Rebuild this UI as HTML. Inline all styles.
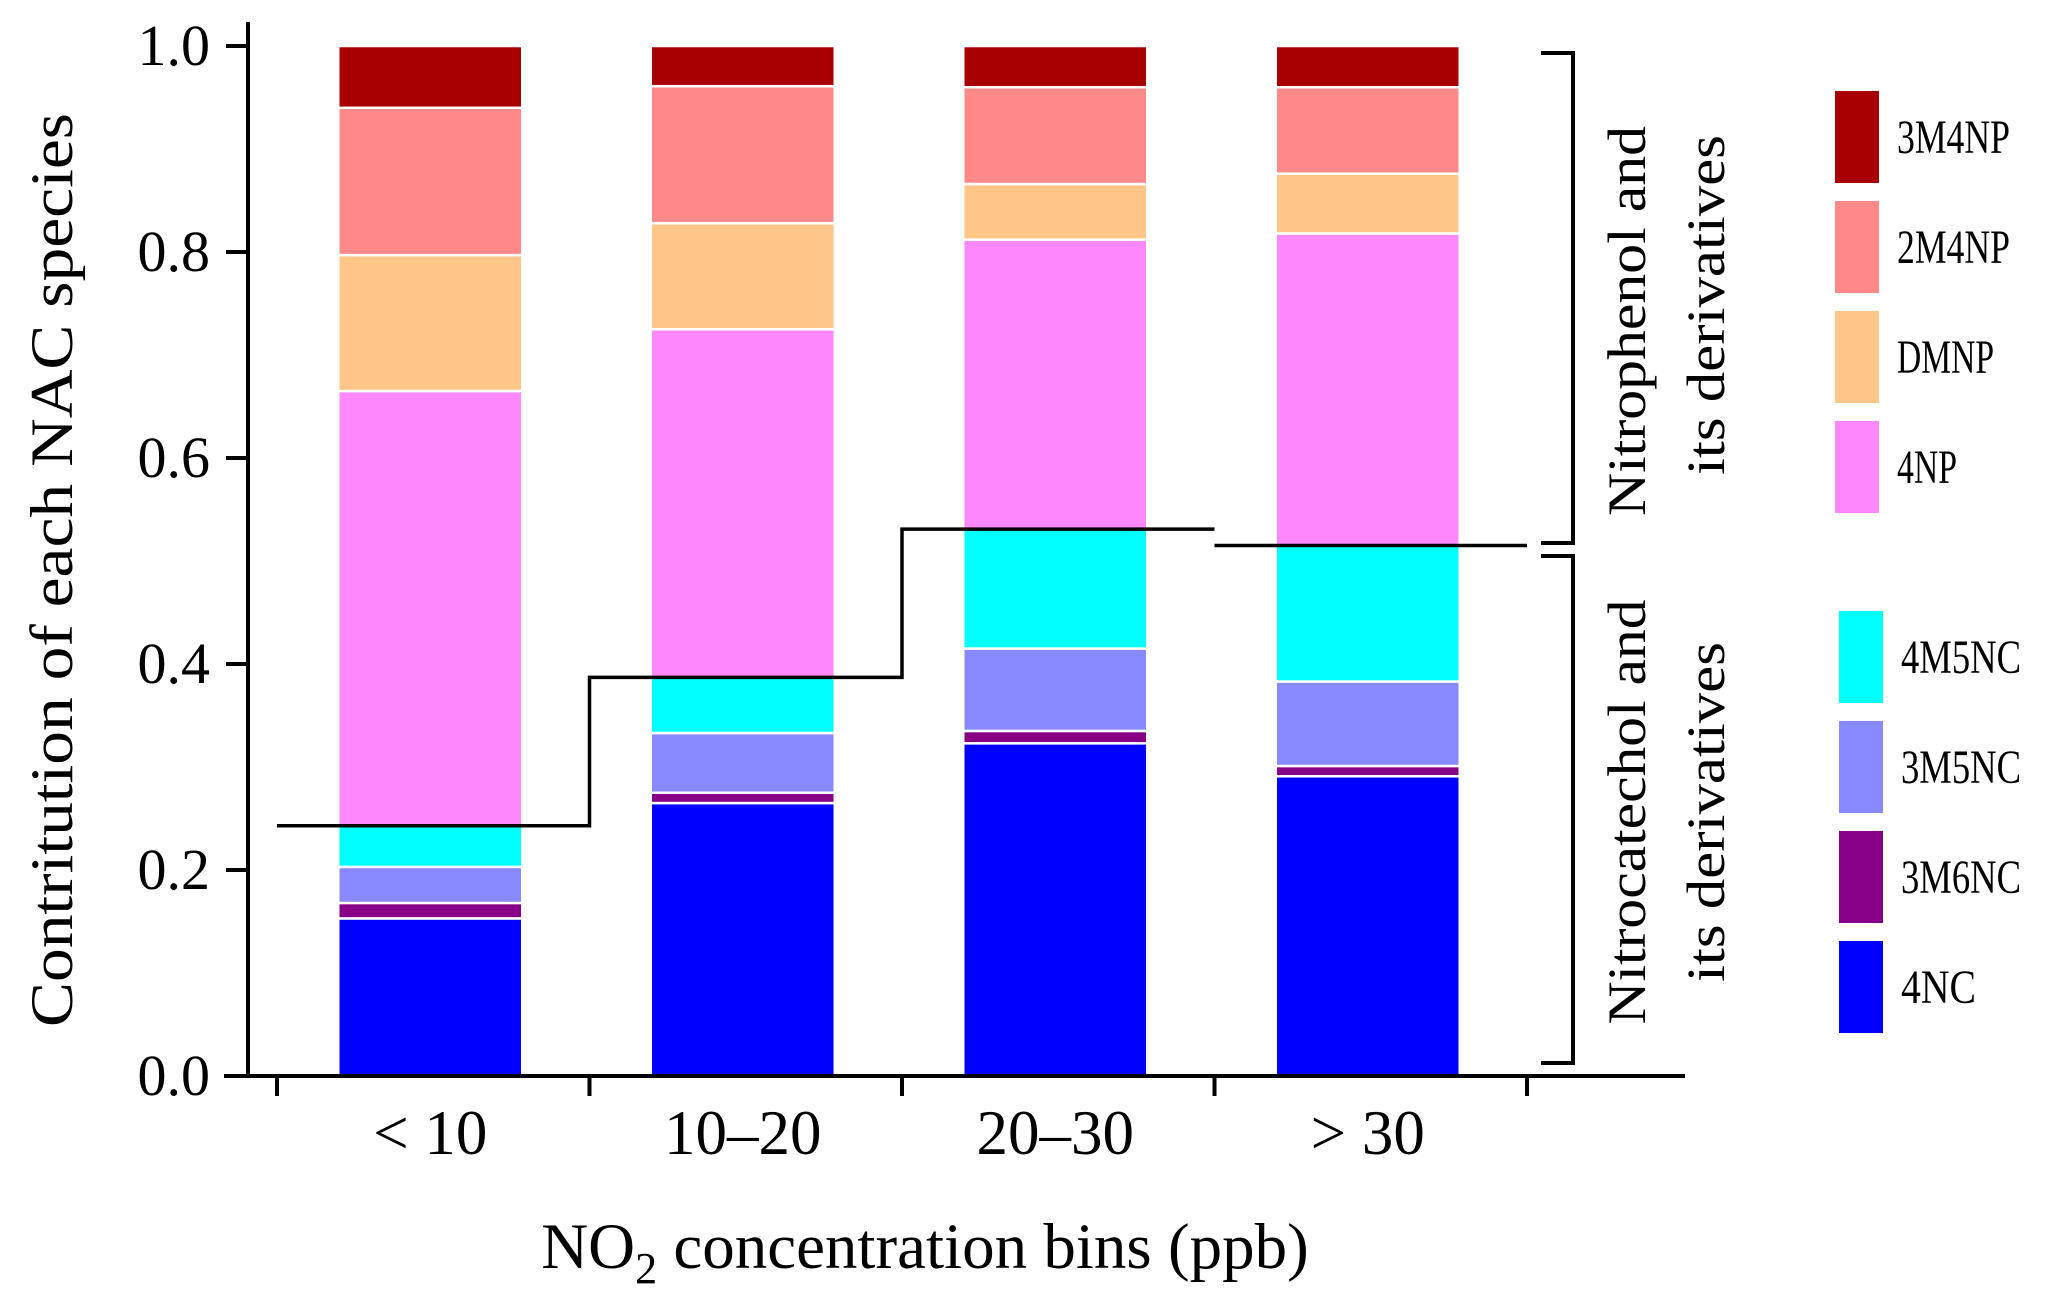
<!DOCTYPE html>
<html><head><meta charset="utf-8"><style>
html,body{margin:0;padding:0;background:#fff;}
svg{display:block;font-family:"Liberation Serif",serif;}
</style></head><body>
<svg id="chart" width="2067" height="1313" viewBox="0 0 2067 1313" xmlns="http://www.w3.org/2000/svg">
<g id="bars"></g>
<g id="axes"></g>
<g id="legend"></g>
</svg>
<script>
const categories = ["< 10", "10\u201320", "20\u201330", "> 30"];
const seriesNames = ["4NC","3M6NC","3M5NC","4M5NC","4NP","DMNP","2M4NP","3M4NP"];
const seriesColors = ["#0000FF","#880088","#8888FF","#00FFFF","#FF88FF","#FFC688","#FF8888","#A80000"];
const s4NC   = [0.153, 0.265, 0.323, 0.291];
const s3M6NC = [0.015, 0.010, 0.012, 0.010];
const s3M5NC = [0.035, 0.058, 0.080, 0.082];
const s4M5NC = [0.040, 0.054, 0.116, 0.132];
const s4NP   = [0.422, 0.338, 0.281, 0.303];
const sDMNP  = [0.132, 0.103, 0.054, 0.058];
const s2M4NP = [0.143, 0.133, 0.094, 0.084];
const s3M4NP = [0.060, 0.039, 0.040, 0.040];
const yTicks = [0.0, 0.2, 0.4, 0.6, 0.8, 1.0];
const yTickLabels = ["0.0","0.2","0.4","0.6","0.8","1.0"];

const series = [s4NC, s3M6NC, s3M5NC, s4M5NC, s4NP, sDMNP, s2M4NP, s3M4NP];
const NS = "http://www.w3.org/2000/svg";
const X0 = 248, X1 = 1685, Y0 = 1076, Y1 = 46;
const firstTick = 277, step = 312.5, barW = 184;
function yScale(v){ return Y0 - v*(Y0-Y1); }
function xCenter(i){ return firstTick - 3 + step*(i+0.5); }
function mk(tag, attrs, parent){ const e=document.createElementNS(NS,tag); for(const k in attrs) e.setAttribute(k,attrs[k]); parent.appendChild(e); return e; }

const bars = document.getElementById('bars');
const axes = document.getElementById('axes');
const legend = document.getElementById('legend');

categories.forEach((c,i)=>{
  let cum = 0;
  series.forEach((s,j)=>{
    const y0 = yScale(cum), y1 = yScale(cum + s[i]);
    const r = mk('rect',{x:xCenter(i)-barW/2, y:y1, width:barW, height:y0-y1, fill:seriesColors[j], stroke:'#fff','stroke-width':2.5}, bars);
    
    
    cum += s[i];
  });
});

const catechol = categories.map((c,i)=> s4NC[i]+s3M6NC[i]+s3M5NC[i]+s4M5NC[i]);
let d = '';
catechol.forEach((v,i)=>{
  const xa = firstTick + step*i, xb = firstTick + step*(i+1), y = yScale(v);
  if(i===0) d += `M${xa},${y}`;
  else if(i===3) d += ` M${xa},${y}`;
  else d += ` L${xa},${y}`;
  d += ` L${xb},${y}`;
});
const sl = mk('path',{d:d, fill:'none', stroke:'#000','stroke-width':3.5}, bars);



const ya = mk('line',{x1:X0,y1:Y0+2,x2:X0,y2:Y1-24,stroke:'#000','stroke-width':4}, axes);


const xa = mk('line',{x1:X0-24,y1:Y0,x2:X1,y2:Y0,stroke:'#000','stroke-width':4}, axes);


yTicks.forEach((v,k)=>{
  const y = yScale(v);
  const t = mk('line',{x1:X0-22,y1:y,x2:X0,y2:y,stroke:'#000','stroke-width':4}, axes);
  
  
  const l = mk('text',{x:X0-38,y:y+19,'font-size':58,'text-anchor':'end',fill:'#000'}, axes);
  l.textContent = yTickLabels[k];
  
  
});
for(let i=0;i<=categories.length;i++){
  const x = firstTick + step*i;
  const t = mk('line',{x1:x,y1:Y0,x2:x,y2:Y0+20,stroke:'#000','stroke-width':4}, axes);
  
  
}
categories.forEach((c,i)=>{
  const l = mk('text',{x:xCenter(i),y:1154,'font-size':63,'text-anchor':'middle',fill:'#000'}, axes);
  l.textContent = c;
  
  
});

function addText(parent, attrs, txt, name){
  const e = document.createElementNS(NS,'text');
  for(const k in attrs) e.setAttribute(k,attrs[k]);
  e.textContent = txt;
  
  
  parent.appendChild(e);
  return e;
}
addText(axes,{x:0,y:0,'font-size':60,'text-anchor':'middle',textLength:914,lengthAdjust:'spacingAndGlyphs',transform:'translate(72,570) rotate(-90)',fill:'#000'},'Contritution of each NAC species','y-axis-title');
const xt = addText(axes,{x:925,y:1268,'font-size':65,'text-anchor':'middle',fill:'#000'},'','x-axis-title');
xt.innerHTML = 'NO<tspan font-size="44" dy="15">2</tspan><tspan dy="-15"> concentration bins (ppb)</tspan>';

const b1 = mk('path',{d:'M1541,53 L1573,53 L1573,543 L1541,543',fill:'none',stroke:'#000','stroke-width':4}, axes);


const b2 = mk('path',{d:'M1541,556 L1573,556 L1573,1063 L1541,1063',fill:'none',stroke:'#000','stroke-width':4}, axes);


addText(axes,{x:0,y:0,'font-size':54,'text-anchor':'middle',textLength:390,lengthAdjust:'spacingAndGlyphs',transform:'translate(1645,321) rotate(-90)',fill:'#000'},'Nitrophenol and','nitrophenol-group-label-1');
addText(axes,{x:0,y:0,'font-size':54,'text-anchor':'middle',textLength:340,lengthAdjust:'spacingAndGlyphs',transform:'translate(1724,305) rotate(-90)',fill:'#000'},'its derivatives','nitrophenol-group-label-2');
addText(axes,{x:0,y:0,'font-size':54,'text-anchor':'middle',textLength:425,lengthAdjust:'spacingAndGlyphs',transform:'translate(1645,812) rotate(-90)',fill:'#000'},'Nitrocatechol and','nitrocatechol-group-label-1');
addText(axes,{x:0,y:0,'font-size':54,'text-anchor':'middle',textLength:340,lengthAdjust:'spacingAndGlyphs',transform:'translate(1724,812) rotate(-90)',fill:'#000'},'its derivatives','nitrocatechol-group-label-2');

const legOrder = [7,6,5,4,3,2,1,0];
const legY = [91,201,311,421,611,721,831,941];
const legX = [1835,1835,1835,1835,1839,1839,1839,1839];
const legW = [113,113,97,60,120,120,120,75];
legOrder.forEach((j,k)=>{
  const r = mk('rect',{x:legX[k],y:legY[k],width:44,height:92,fill:seriesColors[j]}, legend);
  
  
  addText(legend,{x:legX[k]+62,y:legY[k]+62,'font-size':48,textLength:legW[k],lengthAdjust:'spacingAndGlyphs',fill:'#000'},seriesNames[j],'legend-label-' + seriesNames[j].toLowerCase());
});
</script>
</body></html>
